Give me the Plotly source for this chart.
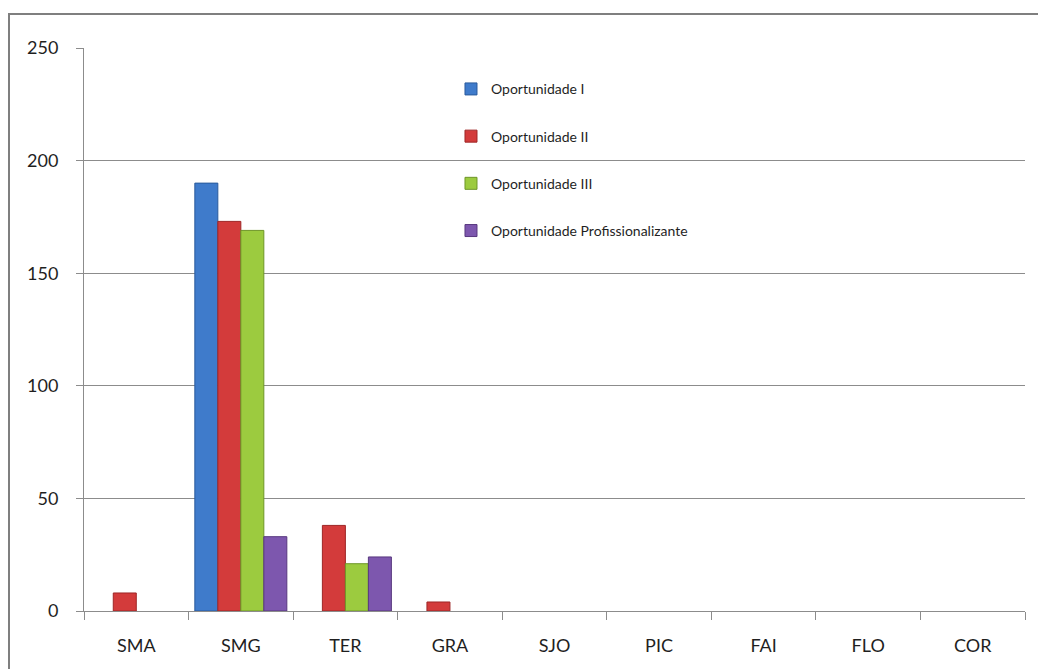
import plotly.graph_objects as go

# --- данные ---------------------------------------------------------------
CATEGORIES = ["SMA", "SMG", "TER", "GRA", "SJO", "PIC", "FAI", "FLO", "COR"]
OPORT_I = [None, 190, None, None, None, None, None, None, None]
OPORT_II = [8, 173, 38, 4, None, None, None, None, None]
OPORT_III = [None, 169, 21, None, None, None, None, None, None]
OPORT_PROF = [None, 33, 24, None, None, None, None, None, None]

SERIES = [
    ("Oportunidade I", OPORT_I, "#3F7BCB", "#2A5A9C"),
    ("Oportunidade II", OPORT_II, "#D33B3B", "#9E2626"),
    ("Oportunidade III", OPORT_III, "#9CCB3F", "#6E9628"),
    ("Oportunidade Profissionalizante", OPORT_PROF, "#7D57AE", "#58387F"),
]

GRID = "#8C8C8C"
TEXT = "#1F1F1F"
FONT = "Lato, 'Open Sans', sans-serif"

fig = go.Figure()
for i, (name, vals, color, edge) in enumerate(SERIES):
    fig.add_trace(
        go.Bar(
            x=CATEGORIES,
            y=vals,
            name=name,
            marker=dict(color=color, line=dict(color=edge, width=1)),
            legendgroup=f"g{i}",
        )
    )

# страница имеет отступ body 8px — учитываем его в размерах и полях
fig.update_layout(
    width=1038,
    height=661,
    barmode="group",
    bargap=0.12,
    bargroupgap=0,
    paper_bgcolor="white",
    plot_bgcolor="white",
    font=dict(family=FONT, color=TEXT, size=18),
    margin=dict(l=76, r=21, t=40, b=58),
    legend=dict(
        x=0.39,
        y=0.955,
        xanchor="left",
        yanchor="top",
        bgcolor="rgba(0,0,0,0)",
        font=dict(family=FONT, size=14, color=TEXT),
        tracegroupgap=26,
        itemwidth=30,
    ),
    showlegend=True,
    shapes=[
        dict(
            type="rect",
            xref="paper",
            yref="paper",
            x0=-0.0797,
            x1=1.06,
            y0=-0.2,
            y1=1.0604,
            line=dict(color="#7F7F7F", width=2),
            fillcolor="rgba(0,0,0,0)",
            layer="below",
        )
    ],
)

fig.update_yaxes(
    range=[0, 250],
    dtick=50,
    showgrid=True,
    gridcolor=GRID,
    gridwidth=1,
    showline=True,
    linecolor=GRID,
    linewidth=1,
    ticks="outside",
    ticklen=7,
    tickcolor=GRID,
    zeroline=False,
    ticklabelstandoff=14,
    tickfont=dict(size=18, color=TEXT),
)
fig.update_xaxes(
    showline=True,
    linecolor=GRID,
    linewidth=1,
    ticks="outside",
    tickson="boundaries",
    ticklen=8,
    tickcolor=GRID,
    showgrid=False,
    ticklabelstandoff=18,
    tickfont=dict(size=18, color=TEXT),
)

fig.write_html("out.html")
